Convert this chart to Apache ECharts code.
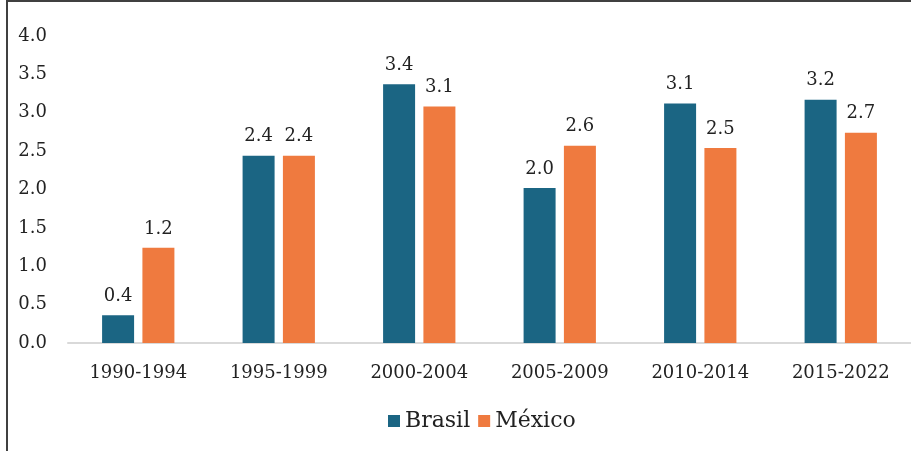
<!DOCTYPE html>
<html>
<head>
<meta charset="utf-8">
<script src="https://cdn.jsdelivr.net/npm/echarts@6/dist/echarts.min.js"></script>
<style>html,body{margin:0;padding:0;background:#fff}#c{width:911px;height:451px}</style>
</head>
<body>
<div id="c"></div>
<script>
const categories = ['1990-1994','1995-1999','2000-2004','2005-2009','2010-2014','2015-2022'];
const brasil = [0.36, 2.44, 3.37, 2.02, 3.12, 3.17];
const mexico = [1.24, 2.44, 3.08, 2.57, 2.54, 2.74];
const seriesNames = ['Brasil', 'México'];
const yTicks = {min: 0, max: 4, interval: 0.5};

const FONT = 'DejaVu Serif';
const chart = echarts.init(document.getElementById('c'));
const labelCfg = {
  show: true, position: 'top', distance: 10,
  fontFamily: FONT, fontSize: 18, color: '#222',
  formatter: p => p.value.toFixed(1)
};
chart.setOption({
  animation: false,
  backgroundColor: '#fff',
  textStyle: {fontFamily: FONT},
  grid: {left: 68, top: 36, width: 845, height: 307, containLabel: false},
  legend: {
    data: seriesNames, left: 383, top: 405, itemWidth: 12, itemHeight: 12, itemGap: 8,
    icon: 'rect',
    textStyle: {fontFamily: FONT, fontSize: 22, color: '#222'}
  },
  xAxis: {
    type: 'category', data: categories,
    axisLine: {show: true, lineStyle: {color: '#d9d9d9', width: 2}},
    axisTick: {show: false},
    axisLabel: {fontFamily: FONT, fontSize: 18, color: '#222', margin: 21}
  },
  yAxis: {
    type: 'value', min: yTicks.min, max: yTicks.max, interval: yTicks.interval,
    axisLine: {show: false}, axisTick: {show: false},
    splitLine: {show: false},
    axisLabel: {fontFamily: FONT, fontSize: 18, color: '#222', margin: 21,
      padding: [4, 0, 0, 0],
      formatter: v => v.toFixed(1)}
  },
  series: [
    {name: seriesNames[0], type: 'bar', data: brasil, barWidth: 32, barGap: '26%',
     itemStyle: {color: '#1b6583'}, label: labelCfg},
    {name: seriesNames[1], type: 'bar', data: mexico, barWidth: 32, barGap: '26%',
     itemStyle: {color: '#ef7a3f'}, label: labelCfg}
  ],
  graphic: [
    {type: 'line', shape: {x1: 6, y1: 1, x2: 911, y2: 1}, style: {stroke: '#404040', lineWidth: 2}},
    {type: 'line', shape: {x1: 7, y1: 0, x2: 7, y2: 451}, style: {stroke: '#404040', lineWidth: 2}}
  ]
});
</script>
</body>
</html>
